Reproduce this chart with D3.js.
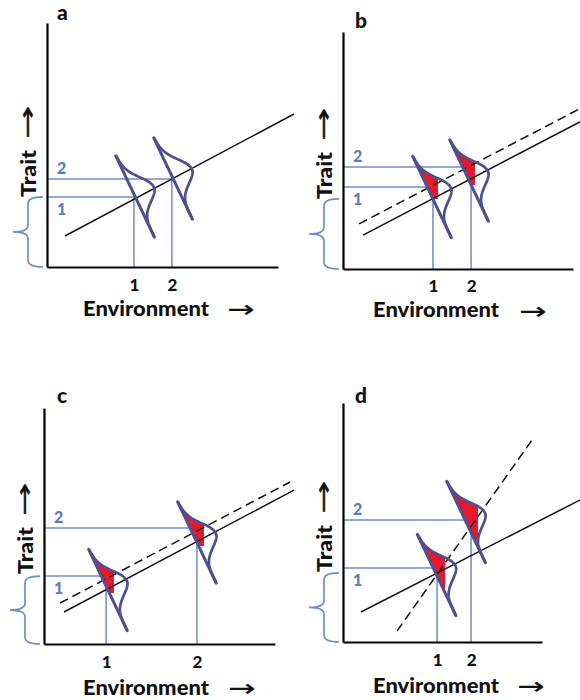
<!DOCTYPE html>
<html><head><meta charset="utf-8">
<script src="https://cdn.jsdelivr.net/npm/d3@7"></script>
<style>body{margin:0;background:#fff}svg{display:block}</style>
</head><body>
<svg id="chart" width="580" height="700"></svg>
<script>
// ---------------- DATA ----------------
const panelLetters = ["a", "b", "c", "d"];
const envTickLabels = ["1", "2"];
const traitLevelLabels = ["1", "2"];
const envValues   = [[3.78, 5.43], [3.91, 5.57], [2.70, 6.65], [4.09, 5.57]];
const traitValues = [[2.92, 3.67], [3.42, 4.25], [2.83, 4.83], [3.08, 5.08]];
const solidLines = [
  {intercept: 0.892, slope: 0.5105, from: 0.78, to: 10.74},
  {intercept: 0.98,  slope: 0.50,   from: 0.87, to: 10.6},
  {intercept: 0.89,  slope: 0.508,  from: 0.87, to: 10.87},
  {intercept: 0.868, slope: 0.49,   from: 0.78, to: 10.6}
];
const dashedLines = [
  null,
  {intercept: 1.53,   slope: 0.50,  from: 0.70, to: 10.6},
  {intercept: 1.357,  slope: 0.504, from: 0.696, to: 10.70},
  {intercept: -2.728, slope: 1.356, from: 2.35, to: 8.22}
];
const glyphEnv   = [[3.83, 5.48], [3.87, 5.48], [2.78, 6.65], [4.07, 5.35]];
const glyphTrait = [[2.94, 3.69], [3.00, 3.69], [2.25, 4.23], [2.79, 5.00]];
const shadeEnvMax   = [null, [4.13, 5.74], [3.04, 6.96], [4.43, 5.87]];
const shadeTraitMin = [null, [2.92, 3.50], [2.125, 4.08], [1.875, 4.25]];
const braceTop = [2.92, 2.92, 2.83, 2.88];

// ---------------- LAYOUT ----------------
const layout = [
  {x0: 47,  y0: 267, xMax: 10.04, yMax: 10.17, letter: [57, 20],   tickPad: 12, env: [83, 316],  envArrow: [241, 310]},
  {x0: 343, y0: 269, xMax: 10.0,  yMax: 9.875, letter: [355, 28],  tickPad: 11, env: [373, 317], envArrow: [533, 312]},
  {x0: 44,  y0: 644, xMax: 10.04, yMax: 9.83,  letter: [57, 403],  tickPad: 12, env: [83, 695],  envArrow: [242, 689]},
  {x0: 343, y0: 642, xMax: 8.65,  yMax: 9.96,  letter: [355, 403], tickPad: 12, env: [373, 693], envArrow: [531, 687]}
];
const KX = 23, KY = 24;
const FONT = "Lato, 'Open Sans', sans-serif";
const BLUE = "#6f8dca", BLUE_TXT = "#5a7bc0", GLYPH = "#4e4f8e", RED = "#e8182c";

const svg = d3.select("#chart");
svg.append("rect").attr("width", 580).attr("height", 700).attr("fill", "#fff");

const ang = 25.4 * Math.PI / 180;
const U = [Math.sin(ang), Math.cos(ang)], N = [Math.cos(ang), -Math.sin(ang)];
const HALF = 45, PEAK = 21;
function curvePts(cx, cy) {
  const pts = [];
  for (let t = -HALF; t <= HALF; t += 1) {
    const s = t < 0 ? 15 : 11;
    const h = PEAK * Math.exp(-t * t / (2 * s * s));
    pts.push([cx + t * U[0] + h * N[0], cy + t * U[1] + h * N[1]]);
  }
  return pts;
}
const line = d3.line();

layout.forEach((L, p) => {
  const g = svg.append("g");
  const x = d3.scaleLinear().domain([0, L.xMax]).range([L.x0, L.x0 + L.xMax * KX]);
  const y = d3.scaleLinear().domain([0, L.yMax]).range([L.y0, L.y0 - L.yMax * KY]);

  // helper blue lines
  envValues[p].forEach((e, i) => {
    const tv = traitValues[p][i];
    g.append("path").attr("d", line([[x(0), y(tv)], [x(e), y(tv)]]))
      .attr("stroke", BLUE).attr("stroke-width", 1.5).attr("fill", "none");
    g.append("path").attr("d", line([[x(e), y(0)], [x(e), y(tv)]]))
      .attr("stroke", BLUE).attr("stroke-width", 1.5).attr("fill", "none");
    g.append("text").attr("x", x(0) + 10).attr("y", y(tv) + (i === 0 ? 18 : -5))
      .attr("font-family", FONT).attr("font-weight", "900").attr("font-size", 16)
      .attr("fill", BLUE_TXT).text(traitLevelLabels[i]);
  });

  // brace
  const yt = y(braceTop[p]), yb = y(0), ym = (yt + yb) / 2;
  const xr = L.x0 - 4, xb = L.x0 - 19, xt = L.x0 - 34;
  g.append("path")
    .attr("d", `M${xr},${yt} Q${xb},${yt} ${xb},${yt + 7} L${xb},${ym - 7} Q${xb},${ym} ${xt},${ym} Q${xb},${ym} ${xb},${ym + 7} L${xb},${yb - 7} Q${xb},${yb} ${xr},${yb}`)
    .attr("stroke", BLUE).attr("stroke-width", 1.7).attr("fill", "none");

  // red shading
  glyphEnv[p].forEach((ge, i) => {
    if (!shadeEnvMax[p]) return;
    const cx = x(ge), cy = y(glyphTrait[p][i]);
    const id = `clip${p}_${i}`;
    svg.append("clipPath").attr("id", id).append("rect")
      .attr("x", 0).attr("y", 0)
      .attr("width", x(shadeEnvMax[p][i])).attr("height", y(shadeTraitMin[p][i]));
    const pts = curvePts(cx, cy);
    pts.push([cx - HALF * U[0], cy - HALF * U[1]]);
    g.append("path").attr("d", line(pts) + "Z").attr("fill", RED)
      .attr("clip-path", `url(#${id})`);
  });

  // regression lines
  const s = solidLines[p];
  g.append("path").attr("d", line([[x(s.from), y(s.intercept + s.slope * s.from)], [x(s.to), y(s.intercept + s.slope * s.to)]]))
    .attr("stroke", "#111").attr("stroke-width", 1.5).attr("fill", "none");
  const dl = dashedLines[p];
  if (dl) {
    g.append("path").attr("d", line([[x(dl.from), y(dl.intercept + dl.slope * dl.from)], [x(dl.to), y(dl.intercept + dl.slope * dl.to)]]))
      .attr("stroke", "#111").attr("stroke-width", 1.5).attr("stroke-dasharray", "9,5").attr("fill", "none");
  }

  // glyph outlines
  glyphEnv[p].forEach((ge, i) => {
    const cx = x(ge), cy = y(glyphTrait[p][i]);
    g.append("path").attr("d", line([[cx - HALF * U[0], cy - HALF * U[1]], [cx + HALF * U[0], cy + HALF * U[1]]]))
      .attr("stroke", GLYPH).attr("stroke-width", 3).attr("stroke-linecap", "round").attr("fill", "none");
    g.append("path").attr("d", line(curvePts(cx, cy)))
      .attr("stroke", GLYPH).attr("stroke-width", 2.7).attr("stroke-linejoin", "round").attr("fill", "none");
  });

  // axes
  const xa = g.append("g").attr("transform", `translate(0,${L.y0})`)
    .call(d3.axisBottom(x).tickValues(envValues[p]).tickFormat((d, i) => envTickLabels[i]).tickSize(0).tickSizeOuter(0).tickPadding(L.tickPad));
  xa.select(".domain").attr("stroke", "#000").attr("stroke-width", 2.2);
  xa.selectAll("text").attr("font-family", FONT).attr("font-weight", "900").attr("font-size", 17).attr("fill", "#111");
  const ya = g.append("g").attr("transform", `translate(${L.x0},0)`)
    .call(d3.axisLeft(y).tickValues([]).tickSizeOuter(0));
  ya.select(".domain").attr("stroke", "#000").attr("stroke-width", 2.2);

  // panel letter
  g.append("text").attr("x", L.letter[0]).attr("y", L.letter[1])
    .attr("font-family", FONT).attr("font-weight", "900").attr("font-size", 21).attr("fill", "#111")
    .text(panelLetters[p]);

  // axis titles
  g.append("text").attr("x", L.env[0]).attr("y", L.env[1])
    .attr("font-family", FONT).attr("font-weight", "900").attr("font-size", 21)
    .attr("textLength", 126).attr("lengthAdjust", "spacingAndGlyphs").attr("fill", "#111")
    .text("Environment");
  g.append("text").attr("x", L.envArrow[0]).attr("y", L.envArrow[1]).attr("dy", "0.32em")
    .attr("text-anchor", "middle").attr("font-family", "'DejaVu Sans'").attr("font-size", 23)
    .attr("textLength", 27).attr("lengthAdjust", "spacingAndGlyphs").attr("fill", "#111")
    .attr("stroke", "#111").attr("stroke-width", 0.4).text("→");
  const tx = L.x0 - 19;
  g.append("text").attr("transform", `translate(${tx},${L.y0 - 70}) rotate(-90)`).attr("dy", "0.36em")
    .attr("font-family", FONT).attr("font-weight", "900").attr("font-size", 21)
    .attr("textLength", 47).attr("lengthAdjust", "spacingAndGlyphs").attr("fill", "#111")
    .text("Trait");
  g.append("text").attr("transform", `translate(${tx},${L.y0 - 145}) rotate(-90)`).attr("dy", "0.32em")
    .attr("text-anchor", "middle").attr("font-family", "'DejaVu Sans'").attr("font-size", 23)
    .attr("textLength", 33).attr("lengthAdjust", "spacingAndGlyphs").attr("fill", "#111")
    .attr("stroke", "#111").attr("stroke-width", 0.4).text("→");
});
</script>
</body></html>
